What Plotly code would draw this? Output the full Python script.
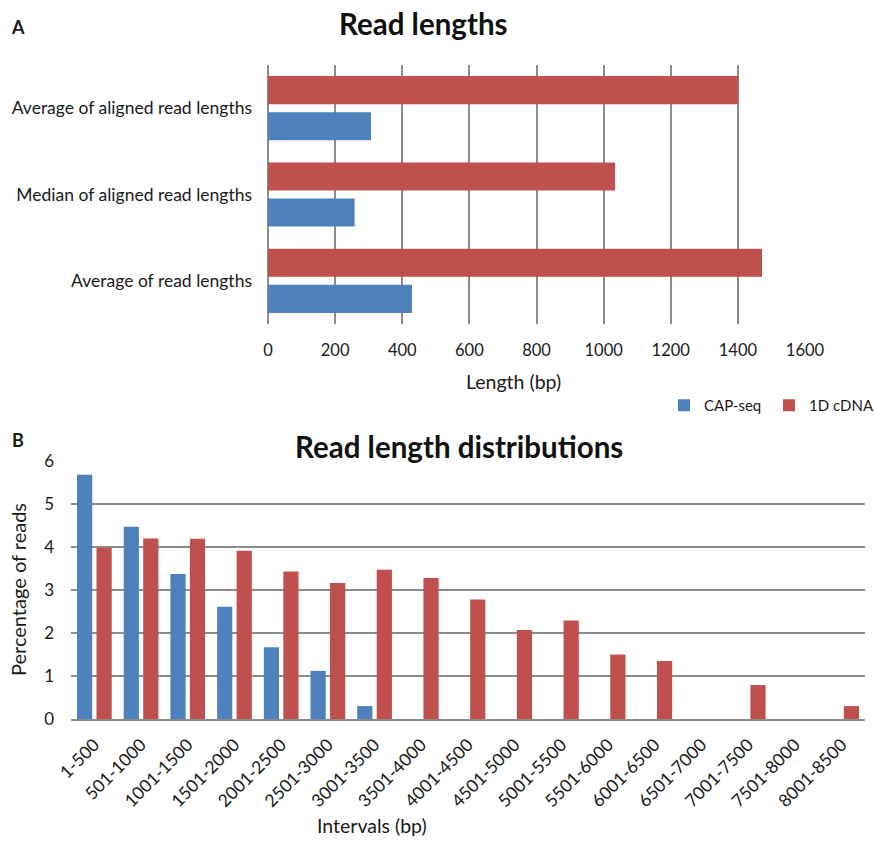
import plotly.graph_objects as go

# Panel A: summary read lengths (bp)
summary_categories = ["Average of read lengths", "Median of aligned read lengths", "Average of aligned read lengths"]
cap_seq_summary = [429, 258, 307]
cdna_summary = [1472, 1034, 1401]
length_ticks = [0, 200, 400, 600, 800, 1000, 1200, 1400, 1600]

# Panel B: read length distributions (% of reads)
intervals = ["1-500", "501-1000", "1001-1500", "1501-2000", "2001-2500", "2501-3000",
             "3001-3500", "3501-4000", "4001-4500", "4501-5000", "5001-5500", "5501-6000",
             "6001-6500", "6501-7000", "7001-7500", "7501-8000", "8001-8500"]
cap_seq_pct = [5.68, 4.47, 3.37, 2.61, 1.67, 1.12, 0.30, 0, 0, 0, 0, 0, 0, 0, 0, 0, 0]
cdna_pct = [3.98, 4.20, 4.19, 3.91, 3.43, 3.16, 3.47, 3.28, 2.78, 2.07, 2.29, 1.50, 1.35, 0, 0.79, 0, 0.30]
pct_ticks = [0, 1, 2, 3, 4, 5, 6]

BLUE = "#4F81BD"
RED = "#C0504D"
GRID = "#8c8c8c"
FONT = "Lato"
TEXT = "#1a1a1a"
W, H = 874, 843


def px_x(p):
    return p / W


def px_y(p):
    return 1 - p / H


def label(text, x, y, size, angle=0, color=TEXT):
    return dict(text=text, x=px_x(x), y=px_y(y), xref="paper", yref="paper",
                xanchor="center", yanchor="middle", showarrow=False, textangle=angle,
                font=dict(size=size, color=color))


fig = go.Figure()

fig.add_trace(go.Bar(y=summary_categories, x=cap_seq_summary, orientation="h", name="CAP-seq",
                     marker=dict(color=BLUE, line=dict(width=0)),
                     xaxis="x", yaxis="y", showlegend=False))
fig.add_trace(go.Bar(y=summary_categories, x=cdna_summary, orientation="h", name="1D cDNA",
                     marker=dict(color=RED, line=dict(width=0)),
                     xaxis="x", yaxis="y", showlegend=False))

fig.add_trace(go.Bar(x=intervals, y=cap_seq_pct, name="CAP-seq",
                     marker=dict(color=BLUE, line=dict(width=0)),
                     xaxis="x2", yaxis="y2"))
fig.add_trace(go.Bar(x=intervals, y=cdna_pct, name="1D cDNA",
                     marker=dict(color=RED, line=dict(width=0)),
                     xaxis="x2", yaxis="y2"))

fig.update_layout(
    width=W, height=H,
    margin=dict(l=0, r=0, t=0, b=0, autoexpand=False),
    paper_bgcolor="white", plot_bgcolor="white",
    font=dict(family=FONT, color=TEXT, size=16),
    barmode="group", bargap=0.165, bargroupgap=0.22,
    xaxis=dict(domain=[px_x(268), px_x(805)], range=[0, 1600], tickvals=length_ticks,
               showgrid=True, gridcolor=GRID, gridwidth=1.5, zeroline=True,
               zerolinecolor=GRID, zerolinewidth=1.5, showline=False, automargin=False,
               ticks="", tickfont=dict(size=16.5), ticklabelstandoff=14, anchor="y"),
    yaxis=dict(domain=[px_y(324), px_y(65)], showgrid=False, showline=False, automargin=False,
               ticks="", tickfont=dict(size=17.5), ticklabelstandoff=15, anchor="x"),
    xaxis2=dict(domain=[px_x(71), px_x(865)], showgrid=False, showline=True, automargin=False,
                linecolor=GRID, linewidth=1.5, ticks="", tickangle=-45,
                tickfont=dict(size=17.5), ticklabelstandoff=7, anchor="y2"),
    yaxis2=dict(domain=[px_y(719), px_y(461)], range=[0, 6], tickvals=pct_ticks,
                showgrid=True, gridcolor=GRID, gridwidth=1.5, zeroline=False, automargin=False,
                showline=False, ticks="", tickfont=dict(size=17), anchor="x2",
                ticklabelstandoff=16),
    legend=dict(orientation="h", x=px_x(664), y=px_y(389), xanchor="left", yanchor="top",
                font=dict(size=15), traceorder="normal", itemwidth=30,
                entrywidth=60, entrywidthmode="pixels",
                bgcolor="rgba(0,0,0,0)"),
    annotations=[
        label("<b>A</b>", 18, 27, 18),
        label("<b>Read lengths</b>", 423, 23, 29.5, color="#111111"),
        label("Length (bp)", 513, 381, 19.5),
        label("<b>B</b>", 18, 440, 18),
        label("<b>Read length distributions</b>", 459, 447, 29.5, color="#111111"),
        label("Percentage of reads", 18, 590, 20, angle=-90),
        label("Intervals (bp)", 372, 825, 19.5),
    ],
)

fig.write_html("out.html")
